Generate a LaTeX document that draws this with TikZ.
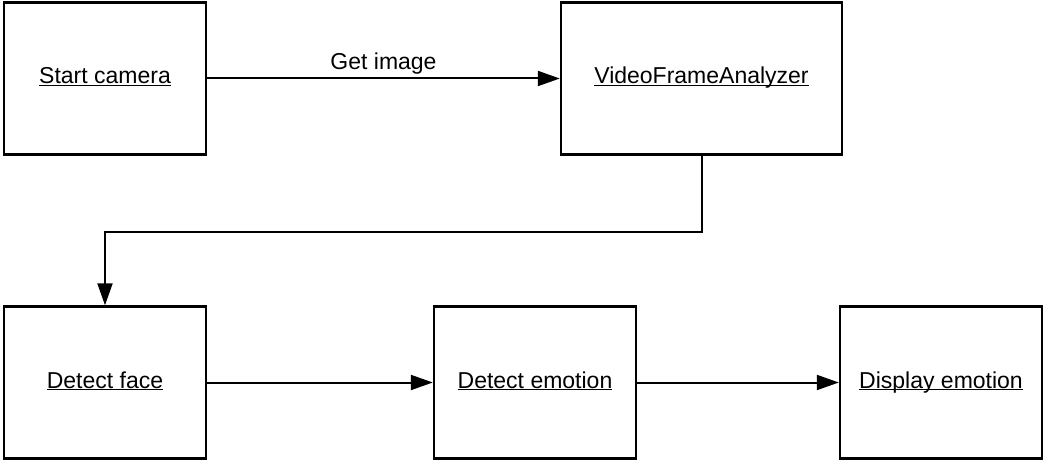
\documentclass[tikz,border=0pt]{standalone}
\usepackage{fontspec}
\setmainfont{Liberation Sans}
\usetikzlibrary{positioning,arrows.meta}
\newcommand\ulabel[1]{\setbox0\hbox{#1}\rlap{\rule[-1.1pt]{\wd0}{0.5pt}}\box0}
\tikzset{
    block/.style = {draw, rectangle, line width=1.2pt,
        minimum height=76pt,
        minimum width=101pt, align=center,
        text height=8pt, text depth=2.5pt,
        font=\fontsize{11.5}{14}\selectfont},
    arrow/.style={draw, line width=1pt, -{Triangle[length=11pt,width=7.5pt]}},
    lbl/.style = {font=\fontsize{11.5}{14}\selectfont}
}

\begin{document}
\begin{tikzpicture}
    \useasboundingbox (0,0) rectangle (522pt,-230pt);
    \node [block] (cam) at (52.5pt,-39.25pt) {\ulabel{Start camera}};
    \node [block, right=176.3pt of cam, minimum width=140.5pt] (vfa) {\ulabel{VideoFrameAnalyzer}};
    \draw [arrow] (cam) -- node[lbl, above, inner sep=1.5pt] {Get image} (vfa);
    \node [block, below=74.8pt of cam] (face) {\ulabel{Detect face}};
    \draw [arrow] (vfa.south) -- ++(0,-38pt) -| (face.north);
    \node [block, right=112.8pt of face] (emo) {\ulabel{Detect emotion}};
    \draw [arrow] (face) -- (emo);
    \node [block, right=100.8pt of emo] (disp) {\ulabel{Display emotion}};
    \draw [arrow] (emo) -- (disp);
\end{tikzpicture}
\end{document}
